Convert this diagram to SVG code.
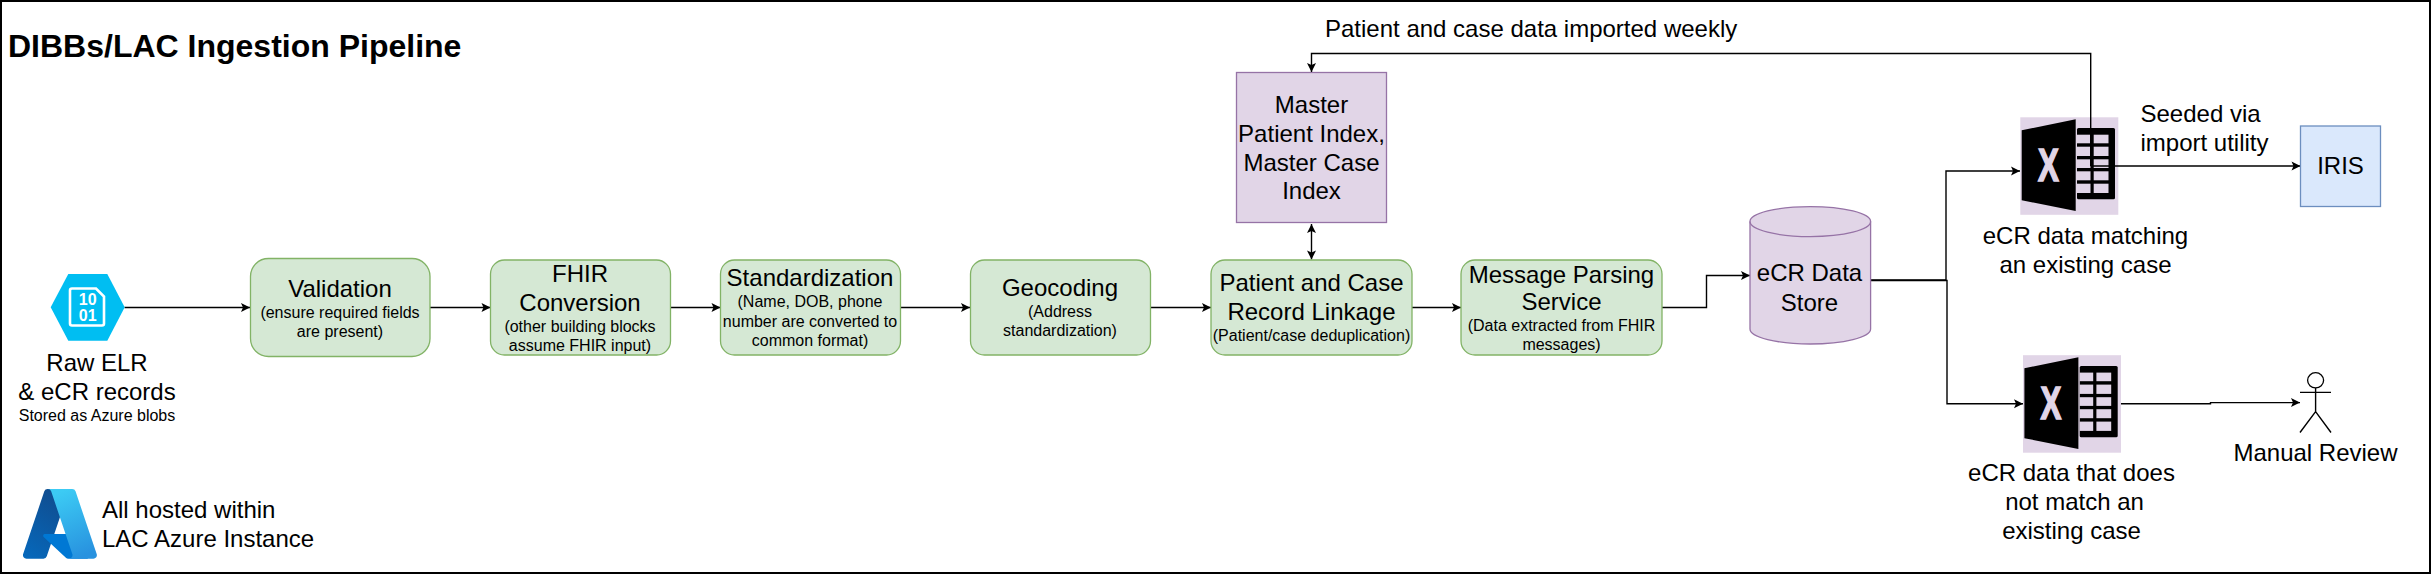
<svg xmlns="http://www.w3.org/2000/svg" width="2431" height="574" viewBox="0 0 2431 574">
<style>
text{font-family:"Liberation Sans",Arial,sans-serif;fill:#000;text-anchor:middle}
.l{font-size:24px}.s{font-size:16px}.lft{text-anchor:start}
.g{fill:#d5e8d4;stroke:#82b366;stroke-width:1.3}
.p{fill:#e1d5e7;stroke:#9673a6;stroke-width:1.3}
.b{fill:#dae8fc;stroke:#6c8ebf;stroke-width:1.3}
.c{fill:none;stroke:#000;stroke-width:1.4;marker-end:url(#ah)}
.n{fill:none;stroke:#000;stroke-width:1.4}
</style>
<defs>
<marker id="ah" markerUnits="userSpaceOnUse" markerWidth="12" markerHeight="12" refX="10" refY="6" orient="auto"><path d="M1 1.5L10 6L1 10.5L3 6Z" fill="#000"/></marker>
<marker id="as" markerUnits="userSpaceOnUse" markerWidth="12" markerHeight="12" refX="10" refY="6" orient="auto-start-reverse"><path d="M1 1.5L10 6L1 10.5L3 6Z" fill="#000"/></marker>
<linearGradient id="az1" x1="60" y1="12" x2="7" y2="90" gradientUnits="userSpaceOnUse"><stop offset="0" stop-color="#114a8b"/><stop offset="1" stop-color="#0669bc"/></linearGradient>
<linearGradient id="az2" x1="46" y1="11" x2="78" y2="85" gradientUnits="userSpaceOnUse"><stop offset="0" stop-color="#3ccbf4"/><stop offset="1" stop-color="#2892df"/></linearGradient>
<g id="excel">
<rect width="98" height="97.5" fill="#e1d5e7"/>
<path d="M1.4 13L55.4 2V93.7L1.4 83Z" fill="#000"/>
<rect x="56.7" y="10.7" width="38" height="71.3" rx="1.5" fill="#000"/>
<g fill="#e1d5e7">
<rect x="56.7" y="17.4" width="13.5" height="8.6"/><rect x="73.4" y="17.4" width="14.8" height="8.6"/>
<rect x="56.7" y="29.4" width="13.5" height="9.3"/><rect x="73.4" y="29.4" width="14.8" height="9.3"/>
<rect x="56.7" y="42" width="13.5" height="8.7"/><rect x="73.4" y="42" width="14.8" height="8.7"/>
<rect x="56.7" y="54" width="13.5" height="9"/><rect x="73.4" y="54" width="14.8" height="9"/>
<rect x="56.7" y="66.4" width="13.5" height="9.3"/><rect x="73.4" y="66.4" width="14.8" height="9.3"/>
</g>
<text transform="translate(28 63.5) scale(.68 1)" style="font-size:46px;font-weight:700;fill:#e1d5e7;stroke:#e1d5e7;stroke-width:1.6">X</text>
</g>
</defs>
<rect x="1" y="1" width="2429" height="572" fill="#fff" stroke="#000" stroke-width="2"/>
<text class="lft" x="8" y="57" style="font-size:32px;font-weight:700">DIBBs/LAC Ingestion Pipeline</text>
<g id="connectors">
<path class="c" d="M124.5 307.5H250"/>
<path class="c" d="M430 307.5H490.5"/>
<path class="c" d="M670.5 307.5H720.5"/>
<path class="c" d="M900 307.5H970"/>
<path class="c" d="M1150 307.5H1211"/>
<path class="c" d="M1412 307.5H1461"/>
<path class="c" d="M1662 307.5H1706.5V275.5H1750"/>
<path class="c" d="M1871 280H1946V171H2020"/>
<path class="c" d="M1871 280.5H1947V403.7H2023"/>
<path class="c" d="M2120.5 403.7H2210.5V402.6H2300"/>
<path d="M1311.5 224V259.5" fill="none" stroke="#000" stroke-width="1.4" marker-start="url(#as)" marker-end="url(#as)"/>
</g>
<g id="blob">
<path d="M50.7 307.3L68.3 274H107.3L124.7 307.3L107.3 340.7H68.3Z" fill="#00bef2"/>
<path d="M72 288.5H96L104 296.5V323.5Q104 325.5 102 325.5H72Q70 325.5 70 323.5V290.5Q70 288.5 72 288.5Z" fill="none" stroke="#fff" stroke-width="2.6"/>
<text x="87.7" y="305.3" style="font-size:16px;font-weight:700;fill:#fff">10</text>
<text x="87.7" y="320.7" style="font-size:16px;font-weight:700;fill:#fff">01</text>
<text class="l" x="97" y="371">Raw ELR</text>
<text class="l" x="97" y="400">&amp; eCR records</text>
<text class="s" x="97" y="421">Stored as Azure blobs</text>
</g>
<g id="azure">
<g transform="translate(19.6 483.5) scale(.84)">
<path fill="url(#az1)" d="M33.338 6.544h26.038l-27.03 80.087a4.152 4.152 0 0 1-3.933 2.824H8.149a4.145 4.145 0 0 1-3.928-5.47L29.404 9.368a4.152 4.152 0 0 1 3.934-2.825z"/>
<path fill="#0078d4" d="M71.175 60.261h-41.29a1.911 1.911 0 0 0-1.305 3.309l26.532 24.764a4.171 4.171 0 0 0 2.846 1.121h23.38z"/>
<path fill="url(#az2)" d="M66.595 9.364a4.145 4.145 0 0 0-3.928-2.82H33.648a4.146 4.146 0 0 1 3.928 2.82l25.184 74.62a4.146 4.146 0 0 1-3.928 5.472h29.02a4.146 4.146 0 0 0 3.927-5.472z"/>
</g>
<text class="l lft" x="102" y="518">All hosted within</text>
<text class="l lft" x="102" y="547">LAC Azure Instance</text>
</g>
<g id="validation">
<rect class="g" x="250.5" y="258.5" width="179.5" height="98" rx="18"/>
<text class="l" x="340" y="297">Validation</text>
<text class="s" x="340" y="318">(ensure required fields</text>
<text class="s" x="340" y="337">are present)</text>
</g>
<g id="fhir">
<rect class="g" x="490.5" y="260" width="180" height="95" rx="14"/>
<text class="l" x="580" y="282">FHIR</text>
<text class="l" x="580" y="311">Conversion</text>
<text class="s" x="580" y="332">(other building blocks</text>
<text class="s" x="580" y="351">assume FHIR input)</text>
</g>
<g id="standardization">
<rect class="g" x="720.5" y="260" width="180" height="95" rx="14"/>
<text class="l" x="810" y="286">Standardization</text>
<text class="s" x="810" y="307">(Name, DOB, phone</text>
<text class="s" x="810" y="327">number are converted to</text>
<text class="s" x="810" y="346">common format)</text>
</g>
<g id="geocoding">
<rect class="g" x="970.5" y="260" width="180" height="95" rx="14"/>
<text class="l" x="1060" y="296">Geocoding</text>
<text class="s" x="1060" y="317">(Address</text>
<text class="s" x="1060" y="336">standardization)</text>
</g>
<g id="linkage">
<rect class="g" x="1211" y="260" width="201" height="95" rx="14"/>
<text class="l" x="1311.5" y="291">Patient and Case</text>
<text class="l" x="1311.5" y="320">Record Linkage</text>
<text class="s" x="1311.5" y="341">(Patient/case deduplication)</text>
</g>
<g id="parsing">
<rect class="g" x="1461" y="260" width="201" height="95" rx="14"/>
<text class="l" x="1561.5" y="283">Message Parsing</text>
<text class="l" x="1561.5" y="310">Service</text>
<text class="s" x="1561.5" y="331">(Data extracted from FHIR</text>
<text class="s" x="1561.5" y="350">messages)</text>
</g>
<g id="master">
<rect class="p" x="1236.5" y="72.5" width="150" height="150"/>
<text class="l" x="1311.5" y="113">Master</text>
<text class="l" x="1311.5" y="142">Patient Index,</text>
<text class="l" x="1311.5" y="171">Master Case</text>
<text class="l" x="1311.5" y="199">Index</text>
</g>
<g id="store">
<path class="p" d="M1750 221.6C1750 213.3 1777 206.6 1810.3 206.6S1870.6 213.3 1870.6 221.6V329C1870.6 337.3 1843.6 344 1810.3 344S1750 337.3 1750 329Z"/>
<path class="p" style="fill:none" d="M1750 221.6C1750 229.9 1777 236.6 1810.3 236.6S1870.6 229.9 1870.6 221.6"/>
<text class="l" x="1809.5" y="281">eCR Data</text>
<text class="l" x="1809.5" y="310.5">Store</text>
</g>
<g id="excel-match">
<use href="#excel" x="2020.3" y="117.3"/>
<text class="l" x="2085.5" y="244">eCR data matching</text>
<text class="l" x="2085.5" y="273">an existing case</text>
</g>
<g id="excel-nomatch">
<use href="#excel" x="2023" y="355.2"/>
<text class="l" x="2071.5" y="481">eCR data that does</text>
<text class="l" x="2074.5" y="510">not match an</text>
<text class="l" x="2071.5" y="539">existing case</text>
</g>
<g id="connectors-over-icon">
<path class="c" d="M2090.7 166H2300.5"/>
<path class="c" d="M2090.7 166V53.5H1311.5V72"/>
</g>
<text class="l lft" x="1325" y="37">Patient and case data imported weekly</text>
<text class="l lft" x="2140.5" y="122">Seeded via</text>
<text class="l lft" x="2140.5" y="151">import utility</text>
<g id="iris">
<rect class="b" x="2300.5" y="126" width="80" height="80.5"/>
<text class="l" x="2340.5" y="174">IRIS</text>
</g>
<g id="actor">
<ellipse cx="2315.6" cy="380.3" rx="8" ry="7.6" fill="#fff" stroke="#000" stroke-width="1.3"/>
<path class="n" d="M2315.6 388V411.7M2300 392.4H2331M2300 432.5L2315.6 411.7L2331 432.5"/>
<text class="l" x="2315.5" y="461">Manual Review</text>
</g>
</svg>
